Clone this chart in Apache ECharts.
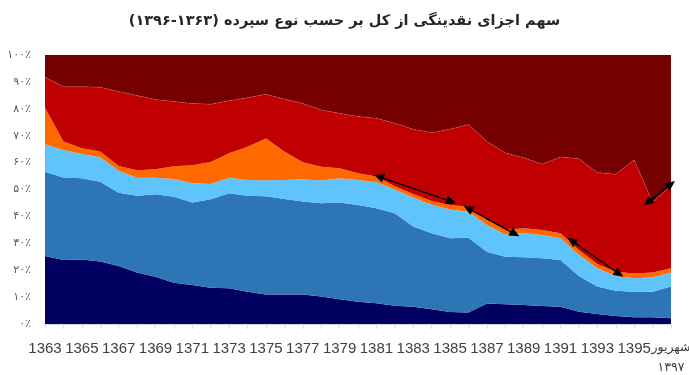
<!DOCTYPE html>
<html>
<head>
<meta charset="utf-8">
<script src="https://cdn.jsdelivr.net/npm/echarts@6/dist/echarts.min.js"></script>
<style>html,body{margin:0;padding:0;background:#fff}#c{width:689px;height:375px}</style>
</head>
<body>
<div id="c"></div>
<script>
const titleText = 'سهم اجزای نقدینگی از کل بر حسب نوع سپرده (۱۳۶۳-۱۳۹۶)';
const categories = ['1363','1364','1365','1366','1367','1368','1369','1370','1371','1372','1373','1374','1375','1376','1377','1378','1379','1380','1381','1382','1383','1384','1385','1386','1387','1388','1389','1390','1391','1392','1393','1394','1395','1396','شهریور\n۱۳۹۷'];
const yTickLabels = ['۰٪','۱۰٪','۲۰٪','۳۰٪','۴۰٪','۵۰٪','۶۰٪','۷۰٪','۸۰٪','۹۰٪','۱۰۰٪'];

const s1 = [25.3,23.8,24.0,23.2,21.6,19.1,17.6,15.3,14.5,13.5,13.3,12.0,11.0,11.0,11.0,10.2,9.2,8.3,7.7,6.8,6.4,5.5,4.5,4.3,7.6,7.3,7.1,6.7,6.4,4.6,3.7,3.0,2.5,2.5,2.1];
const s2 = [31.3,30.7,30.2,29.7,27.2,28.6,30.6,32.0,30.7,32.9,35.3,35.7,36.5,35.5,34.5,34.7,36.0,35.9,35.3,34.4,29.8,28.2,27.4,27.8,19.3,17.7,17.7,17.7,17.4,13.2,10.2,9.4,9.5,9.5,11.8];
const s3 = [10.2,10.2,9.0,9.1,8.2,6.7,6.2,6.6,7.1,5.6,5.8,5.8,5.9,7.0,8.3,8.4,9.0,9.3,9.7,8.8,10.8,10.6,10.7,9.6,9.9,8.3,8.9,8.7,8.1,7.9,6.8,5.4,5.0,5.4,5.2];
const s4 = [13.6,3.1,2.1,2.1,1.7,2.8,3.1,4.7,6.7,8.2,9.1,12.4,15.6,10.6,6.3,5.2,3.7,2.5,2.1,1.2,1.3,1.4,1.6,1.9,1.9,1.6,1.9,1.8,1.8,1.8,1.6,1.6,1.8,1.7,1.6];
const s5 = [11.3,20.4,22.9,23.9,27.7,27.7,26.0,24.1,23.0,21.5,19.5,18.2,16.4,19.5,21.9,21.1,20.4,21.1,21.7,23.4,24.1,25.4,28.2,30.6,29.1,28.7,26.2,24.5,28.4,33.9,34.0,36.3,42.2,26.2,30.8];
const s6 = [8.3,11.8,11.8,12.0,13.6,15.1,16.5,17.3,18.0,18.3,17.0,15.9,14.6,16.4,18.0,20.4,21.7,22.9,23.5,25.4,27.6,28.9,27.6,25.8,32.2,36.4,38.2,40.6,37.9,38.6,43.7,44.3,39.0,54.7,48.5];

// arrow annotations: [from [categoryPosition, percent], to [categoryPosition, percent]]
const arrows = [
  [[18.13,54.8],[22.07,45.5]],
  [[22.98,43.0],[25.52,33.5]],
  [[28.6,31.0],[31.19,18.6]],
  [[32.74,45.2],[34.0,52.0]]
];

const layerNames = ['s1','s2','s3','s4','s5','s6'];
const layerData = [s1,s2,s3,s4,s5,s6];
const layerColors = ['#000060','#2e75b6','#5ec4fb','#ff6a00','#c00000','#760000'];

const chart = echarts.init(document.getElementById('c'), null, {renderer:'canvas'});
const series = layerData.map((d,i)=>({
  name: layerNames[i],
  type: 'line',
  stack: 'total',
  data: d,
  showSymbol: false,
  symbol: 'none',
  smooth: false,
  lineStyle: i===4 ? {width:0.6,color:'rgba(255,140,140,0.55)',type:'dashed'} : {width:0},
  areaStyle: {color: layerColors[i], opacity: 1},
  itemStyle: {color: layerColors[i]},
  z: 2,
  silent: true
}));
series.push({
  name: 'arrows',
  type: 'line',
  xAxisIndex: 1,
  data: [],
  symbol: 'none',
  lineStyle: {opacity: 0},
  silent: true,
  z: 5,
  markLine: {
    silent: true,
    clip: false,
    symbol: ['triangle','triangle'],
    symbolSize: [9,10],
    label: {show:false},
    lineStyle: {color:'#000', width:1.4, type:'solid'},
    emphasis: {disabled:true},
    data: arrows.map(a=>[{coord:a[0]},{coord:a[1]}])
  }
});

const lastIdx = categories.length - 1;

chart.setOption({
  animation: false,
  title: {
    text: '\u202B' + titleText + '\u202C',
    left: 'center',
    top: 9,
    textStyle: {fontFamily:'DejaVu Sans', fontSize:14.5, fontWeight:'bold', color:'#262626'}
  },
  grid: {left:45, right:18, top:55, bottom:51, containLabel:false, outerBoundsMode:'none'},
  xAxis: [{
    type: 'category',
    data: categories.map((c,i)=> i===lastIdx ? {value:c, textStyle:{fontSize:12.5, fontFamily:'DejaVu Sans', lineHeight:20}} : c),
    boundaryGap: false,
    axisLine: {show:true, lineStyle:{color:'#d9d9d9', width:1}},
    axisTick: {show:true, interval:0, length:5, lineStyle:{color:'#d9d9d9'}},
    axisLabel: {
      interval: 1,
      showMaxLabel: true,
      showMinLabel: true,
      hideOverlap: false,
      margin: 14,
      color: '#404040',
      fontFamily: 'Liberation Sans Narrow, Liberation Sans, DejaVu Sans',
      fontSize: 15,
      lineHeight: 22
    }
  },{
    type: 'value',
    min: 0,
    max: 34,
    show: false
  }],
  yAxis: {
    type: 'value',
    min: 0,
    max: 100,
    interval: 10,
    axisLine: {show:false},
    axisTick: {show:false},
    splitLine: {show:false},
    axisLabel: {
      margin: 14,
      color: '#595959',
      fontFamily: 'DejaVu Sans',
      fontSize: 11,
      formatter: v => yTickLabels[Math.round(v/10)]
    }
  },
  series: series
});
</script>
</body>
</html>
